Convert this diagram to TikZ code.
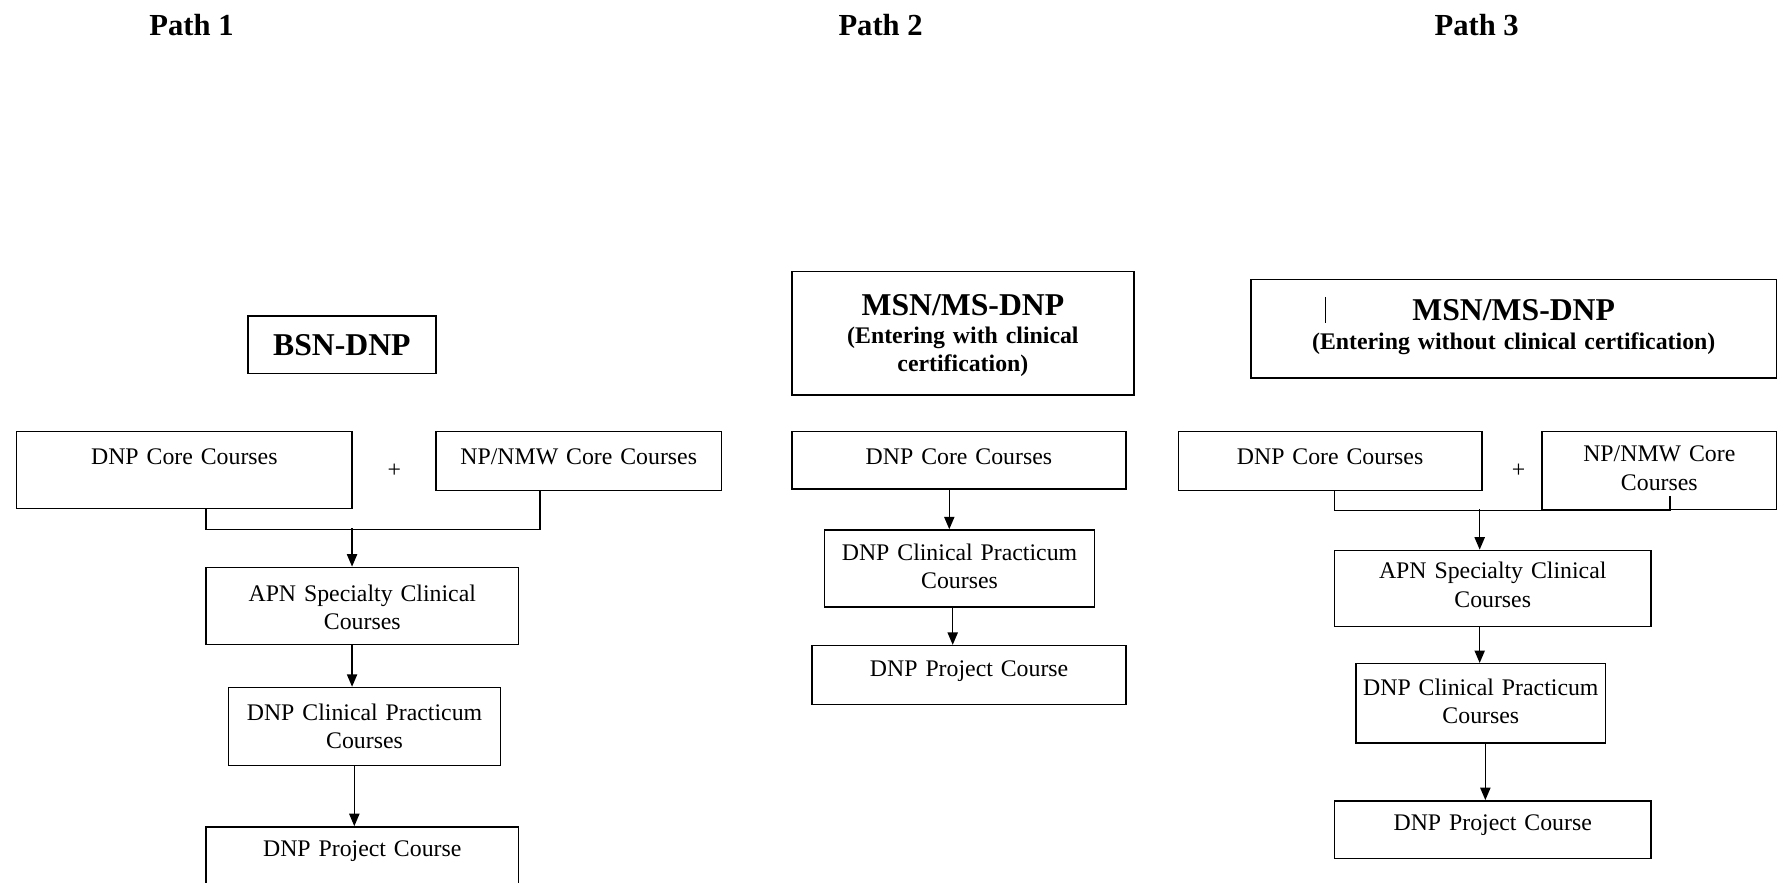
\documentclass[tikz,border=0pt]{standalone}
\usepackage{fontspec}
\setmainfont{Liberation Serif}
\usetikzlibrary{arrows.meta,calc}
% #1 name, #2 x1, #3 y1, #4 x2, #5 y2, #6 baseline of first line, #7 options, #8 text
\newcommand\mybox[8]{%
  \node[box, text width={#4pt-#2pt}, text height={#6pt-#3pt}, text depth={#5pt-#6pt}, #7] (#1) at (#2,#3) {#8};}
\begin{document}
\begin{tikzpicture}[x=1pt,y=-1pt,
  box/.style={draw, line width=1.3pt, inner sep=0pt, anchor=north west, align=center,
              font=\fontsize{21}{25}\selectfont},
  ttlbox/.style={font=\bfseries\fontsize{21}{24.5}\selectfont},
  pathttl/.style={font=\bfseries\fontsize{27}{30}\selectfont, anchor=base, inner sep=0pt},
  plus/.style={font=\fontsize{21}{25}\selectfont, inner sep=0pt},
  ln/.style={line width=1.3pt},
  arr/.style={line width=1.3pt, -{Triangle[length=11pt,width=9pt]}}]
\useasboundingbox (0,0) rectangle (1568,779);

% column titles
\node[pathttl] (t1) at (169,31) {Path 1};
\node[pathttl] (t2) at (777,31) {Path 2};
\node[pathttl] (t3) at (1303,31) {Path 3};

% ---------- Path 1 ----------
\mybox{p1title}{218}{278}{384}{329}{313}{ttlbox}{{\fontsize{28}{30}\selectfont BSN-DNP}}
\mybox{p1core}{14}{380}{310}{448}{409}{}{DNP Core Courses}
\node[plus] (plus1) at (348,415) {+};
\mybox{p1np}{384}{380}{636}{432}{409}{}{NP/NMW Core Courses}
\mybox{p1apn}{181}{500}{457}{568}{530}{}{APN Specialty Clinical\\Courses}
\mybox{p1prac}{201}{606}{441}{675}{635}{}{DNP Clinical Practicum\\Courses}
\mybox{p1proj}{181}{729}{457}{820}{755}{}{DNP Project Course}

\draw[ln] ([xshift=19pt]p1core.south) -- ++(0,18) -| ([xshift=-34pt]p1np.south);
\draw[arr] ($(p1apn.north)+(-9,-34)$) -- ([xshift=-9pt]p1apn.north);
\draw[arr] ([xshift=-9pt]p1apn.south) -- ([xshift=-11pt]p1prac.north);
\draw[arr] ([xshift=-9pt]p1prac.south) -- ([xshift=-7pt]p1proj.north);

% ---------- Path 2 ----------
\mybox{p2title}{698}{239}{1000}{348}{278}{ttlbox}{{\fontsize{28}{30}\selectfont MSN/MS-DNP}\\(Entering with clinical\\certification)}
\mybox{p2core}{698}{380}{993}{431}{409}{}{DNP Core Courses}
\mybox{p2prac}{727}{467}{965}{535}{494}{}{DNP Clinical Practicum\\Courses}
\mybox{p2proj}{716}{569}{993}{621}{596}{}{DNP Project Course}

\draw[arr] ([xshift=-8.5pt]p2core.south) -- ([xshift=-9pt]p2prac.north);
\draw[arr] ([xshift=-6pt]p2prac.south) -- ([xshift=-14.5pt]p2proj.north);

% ---------- Path 3 ----------
\mybox{p3title}{1103}{246}{1567}{333}{282}{ttlbox,font=\bfseries\fontsize{21}{26}\selectfont}{{\fontsize{28}{30}\selectfont MSN/MS-DNP}\\(Entering without clinical certification)}
\draw[line width=0.9pt] (1170,262) -- (1170,285);
\mybox{p3core}{1039}{380}{1307}{432}{409}{}{DNP Core Courses}
\node[plus] (plus3) at (1340,415) {+};
\mybox{p3np}{1360}{380}{1567}{449}{407}{}{NP/NMW Core\\Courses}
\mybox{p3apn}{1177}{485}{1456}{552}{510}{}{APN Specialty Clinical\\Courses}
\mybox{p3prac}{1196}{585}{1416}{655}{613}{}{DNP Clinical Practicum\\Courses}
\mybox{p3proj}{1177}{706}{1456}{757}{732}{}{DNP Project Course}

\draw[ln] ([xshift=4pt]p3core.south) |- ($(p3np.south)+(9.5,0)$) -- ++(0,-13);
\draw[arr] ($(p3apn.north)+(-11.5,-36)$) -- ([xshift=-11.5pt]p3apn.north);
\draw[arr] ([xshift=-11.5pt]p3apn.south) -- ([xshift=-1pt]p3prac.north);
\draw[arr] ([xshift=4pt]p3prac.south) -- ([xshift=-6.5pt]p3proj.north);
\end{tikzpicture}
\end{document}
